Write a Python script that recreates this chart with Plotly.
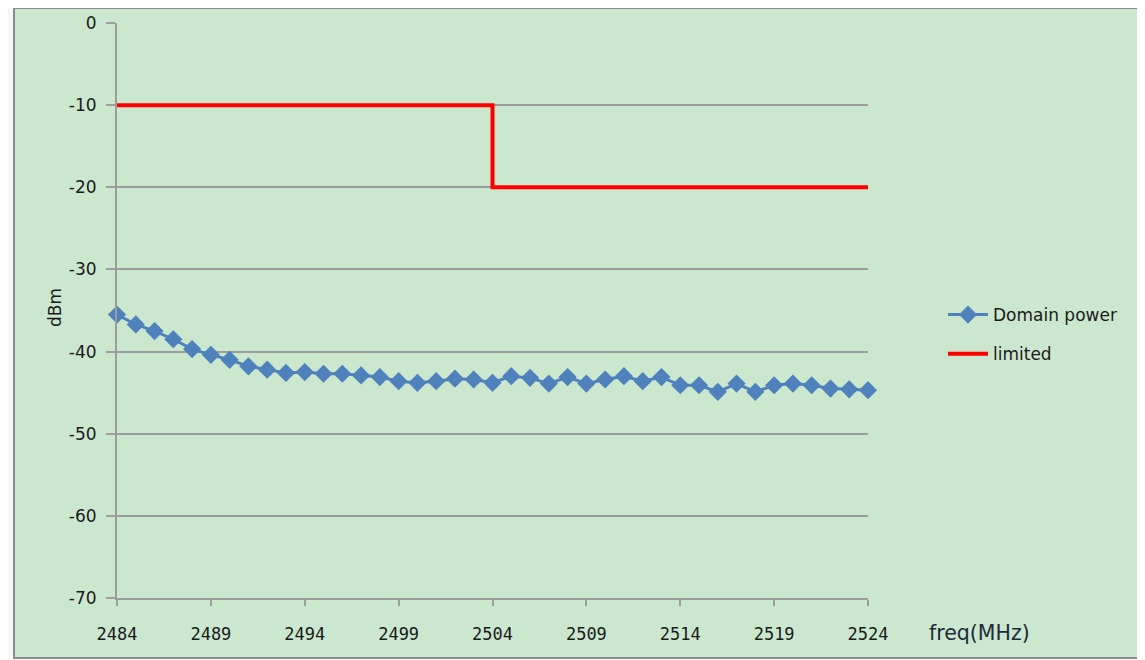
import plotly.graph_objects as go

freq = [2484, 2485, 2486, 2487, 2488, 2489, 2490, 2491, 2492, 2493,
        2494, 2495, 2496, 2497, 2498, 2499, 2500, 2501, 2502, 2503,
        2504, 2505, 2506, 2507, 2508, 2509, 2510, 2511, 2512, 2513,
        2514, 2515, 2516, 2517, 2518, 2519, 2520, 2521, 2522, 2523, 2524]
domain_power = [-35.5, -36.7, -37.5, -38.5, -39.7, -40.4, -41.0, -41.8, -42.2, -42.6,
                -42.5, -42.7, -42.7, -42.9, -43.1, -43.6, -43.8, -43.6, -43.3, -43.4,
                -43.8, -43.0, -43.2, -43.9, -43.1, -43.9, -43.4, -43.0, -43.6, -43.1,
                -44.1, -44.1, -44.9, -43.9, -44.9, -44.1, -43.9, -44.1, -44.5, -44.6, -44.7]
limit_freq = [2484, 2504, 2504, 2524]
limit_vals = [-10, -10, -20, -20]
x_ticks = [2484, 2489, 2494, 2499, 2504, 2509, 2514, 2519, 2524]
y_ticks = [0, -10, -20, -30, -40, -50, -60, -70]

GREEN = "#CBE8CF"
GRID = "#9C9C9C"

fig = go.Figure()
fig.add_trace(go.Scatter(
    x=freq, y=domain_power, name="Domain power", mode="lines+markers",
    line=dict(color="#4F81BD", width=3),
    marker=dict(symbol="diamond", size=14, color="#4F81BD"),
    cliponaxis=False,
    legendgroup="a"))
fig.add_trace(go.Scatter(
    x=limit_freq, y=limit_vals, name="limited", mode="lines",
    line=dict(color="#FF0000", width=4),
    legendgroup="b"))

# target screen positions of the plot area; the page body adds an 8px offset
OFF = 8
L, R, T, B = 117, 868, 23, 598
W, H = 1145, 660
pw, ph = R - L, B - T

def px(x):
    return (x - L) / pw

def py(y):
    return (B - y) / ph

fig.add_shape(type="rect", xref="paper", yref="paper",
              x0=px(14), x1=px(1144), y0=py(658), y1=py(8),
              fillcolor=GREEN, line=dict(color="#8C8C8C", width=2), layer="below")

fig.add_annotation(text="dBm", xref="paper", yref="paper", x=px(55), y=py(308),
                   xanchor="center", yanchor="middle",
                   textangle=-90, showarrow=False,
                   font=dict(family="DejaVu Sans", size=17, color="#1a1a1a"))
fig.add_annotation(text="freq(MHz)", xref="paper", yref="paper", x=px(979), y=py(633),
                   xanchor="center", yanchor="middle",
                   showarrow=False,
                   font=dict(family="DejaVu Sans", size=20.5, color="#1f2a3a"))

fig.update_layout(
    width=W, height=H,
    margin=dict(l=L - OFF, r=W - R + OFF, t=T - OFF, b=H - B + OFF, autoexpand=False),
    paper_bgcolor="#F7F8FA",
    plot_bgcolor="rgba(0,0,0,0)",
    showlegend=True,
    legend=dict(x=px(943), y=py(297), xanchor="left", yanchor="top",
                bgcolor="rgba(0,0,0,0)", traceorder="grouped", tracegroupgap=14,
                itemwidth=40,
                font=dict(family="DejaVu Sans", size=17, color="#1a1a1a")),
    xaxis=dict(range=[2484, 2524], tickvals=x_ticks, ticktext=[str(v) for v in x_ticks],
               showgrid=False, zeroline=False, showline=True, linecolor=GRID, linewidth=2,
               ticks="outside", ticklen=6, tickwidth=2, tickcolor=GRID,
               ticklabelstandoff=14, automargin=False,
               tickfont=dict(family="DejaVu Sans Mono", size=17, color="#1a1a1a")),
    yaxis=dict(range=[-70, 0], tickvals=y_ticks, ticktext=[str(v) for v in y_ticks],
               showgrid=True, gridcolor=GRID, gridwidth=2, zeroline=False,
               showline=True, linecolor=GRID, linewidth=2,
               ticks="outside", ticklen=9, tickwidth=2, tickcolor=GRID,
               ticklabelstandoff=6, automargin=False,
               tickfont=dict(family="DejaVu Sans", size=17, color="#1a1a1a")),
)

fig.write_html("out.html")
